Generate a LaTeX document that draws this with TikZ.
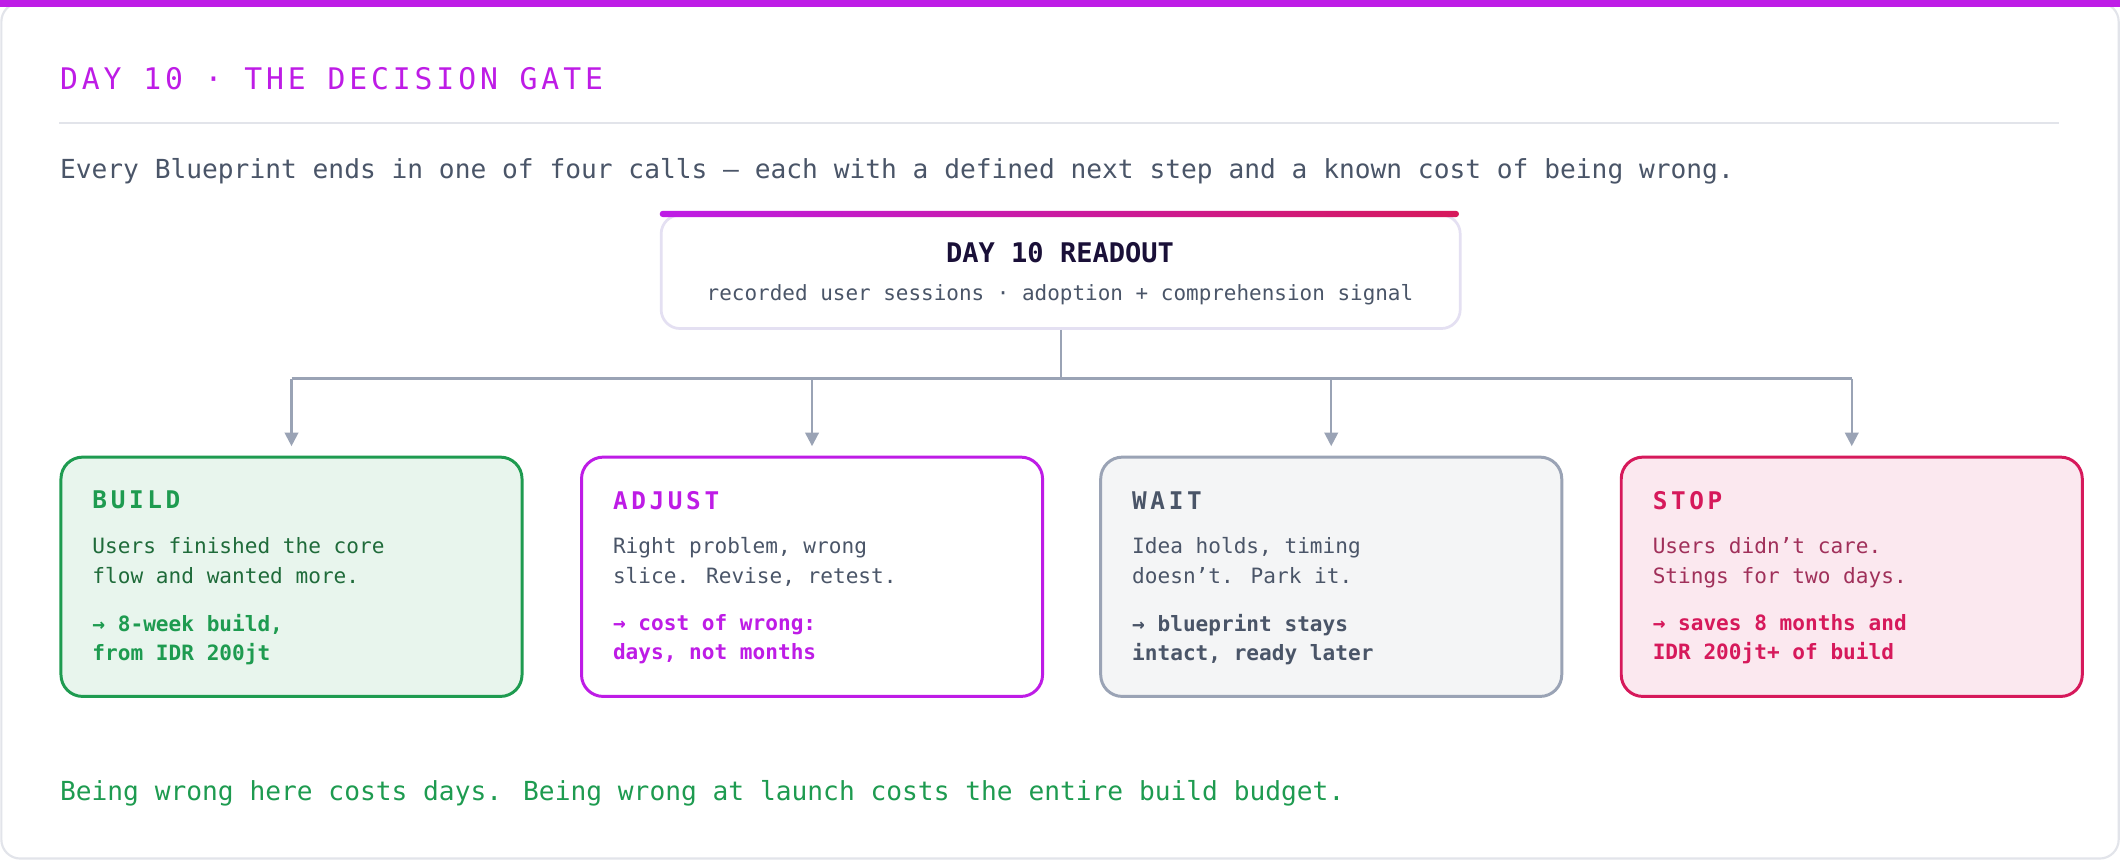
\documentclass[tikz,border=0pt]{standalone}
\usepackage{fontspec}
\setmainfont{DejaVu Sans Mono}
\usetikzlibrary{arrows.meta,positioning,calc}
\definecolor{purp}{HTML}{BE1CE6}
\definecolor{crim}{HTML}{D6195B}
\definecolor{grn}{HTML}{1E9B50}
\definecolor{dgrn}{HTML}{1F6B3A}
\definecolor{slate}{HTML}{4A5568}
\definecolor{wire}{HTML}{9AA3B5}
\definecolor{navy}{HTML}{1A1038}
\definecolor{rule}{HTML}{E2E4EA}
\definecolor{lav}{HTML}{E4E0F2}
\definecolor{stopbody}{HTML}{A0305A}
\tikzset{
  card/.style={draw, line width=1.1pt, rounded corners=8pt, minimum width=170.5pt,
    minimum height=88.5pt, anchor=north west, inner sep=0pt},
  head/.style={anchor=west, inner sep=0pt, font=\fontsize{9}{11}\selectfont\bfseries\addfontfeature{LetterSpace=15}},
  body/.style={anchor=north west, inner sep=0pt, align=left, font=\fontsize{7.8}{11}\selectfont},
  note/.style={anchor=north west, inner sep=0pt, align=left, font=\fontsize{7.8}{10.6}\selectfont\bfseries},
  wire/.style={draw=wire, line width=0.8pt},
  drop/.style={wire, -{Triangle[length=5pt,width=5pt]}, shorten >=3.5pt},
}
\begin{document}
\begin{tikzpicture}[x=0.5pt,y=-0.5pt]
\useasboundingbox (0,0) rectangle (1568,636);
% card and header
\draw[rule, line width=0.8pt, fill=white, rounded corners=7pt] (1,2) rectangle (1567,635);
\fill[purp] (0,0) rectangle (1568,5);
\node[anchor=west, inner sep=0pt, text=purp, font=\fontsize{11}{13}\selectfont\addfontfeature{LetterSpace=13}] (title) at (44,58) {DAY 10 · THE DECISION GATE};
\draw[rule, line width=0.6pt] (44,91) -- (1523,91);
\node[anchor=west, inner sep=0pt, text=slate, font=\fontsize{9.7}{12}\selectfont] (lead) at (44,127) {Every Blueprint ends in one of four calls — each with a defined next step and a known cost of being wrong.};

% readout
\node[draw=lav, line width=1pt, fill=white, rounded corners=7pt, minimum width=295.5pt, minimum height=42pt, anchor=north west, inner sep=0pt] (readout) at (488,158) {};
\shade[left color=purp, right color=crim, rounded corners=1pt] (488,156) rectangle (1079,160.5);
\node[inner sep=0pt, text=navy, font=\fontsize{10}{12}\selectfont\bfseries] (rtitle) at (784,187) {DAY 10 READOUT};
\node[inner sep=0pt, text=slate, font=\fontsize{7.75}{10}\selectfont] (rsub) at (784,218) {recorded user sessions · adoption + comprehension signal};

% four calls
\node[card, draw=grn, fill=grn!10] (build) at (44,337) {};
\node[card, draw=purp, fill=white] (adjust) at (429,337) {};
\node[card, draw=wire, fill=slate!6] (wait) at (813,337) {};
\node[card, draw=crim, fill=crim!10] (stop) at (1198,337) {};

\node[head, text=grn] (buildh) at ($(build.north west)+(24,33)$) {BUILD};
\node[body, text=dgrn] (buildb) at ($(build.north west)+(24,60)$) {Users finished the core\\flow and wanted more.};
\node[note, text=grn] (buildn) at ($(build.north west)+(24,117)$) {→ 8-week build,\\from IDR 200jt};

\node[head, text=purp] (adjusth) at ($(adjust.north west)+(24,33)$) {ADJUST};
\node[body, text=slate] (adjustb) at ($(adjust.north west)+(24,60)$) {Right problem, wrong\\slice. Revise, retest.};
\node[note, text=purp] (adjustn) at ($(adjust.north west)+(24,117)$) {→ cost of wrong:\\days, not months};

\node[head, text=slate] (waith) at ($(wait.north west)+(24,33)$) {WAIT};
\node[body, text=slate] (waitb) at ($(wait.north west)+(24,60)$) {Idea holds, timing\\doesn't. Park it.};
\node[note, text=slate] (waitn) at ($(wait.north west)+(24,117)$) {→ blueprint stays\\intact, ready later};

\node[head, text=crim] (stoph) at ($(stop.north west)+(24,33)$) {STOP};
\node[body, text=stopbody] (stopb) at ($(stop.north west)+(24,60)$) {Users didn't care.\\Stings for two days.};
\node[note, text=crim] (stopn) at ($(stop.north west)+(24,117)$) {→ saves 8 months and\\IDR 200jt+ of build};

% connectors
\coordinate (hub) at (readout.south |- 0,280);
\draw[wire] (readout.south) -- (hub);
\draw[wire] (build.north |- hub) -- (stop.north |- hub);
\foreach \b in {build,adjust,wait,stop}
  \draw[drop] (\b.north |- hub) -- (\b.north);

\node[anchor=west, inner sep=0pt, text=grn, font=\fontsize{9.7}{12}\selectfont] (closing) at (44,587) {Being wrong here costs days. Being wrong at launch costs the entire build budget.};
\end{tikzpicture}
\end{document}
